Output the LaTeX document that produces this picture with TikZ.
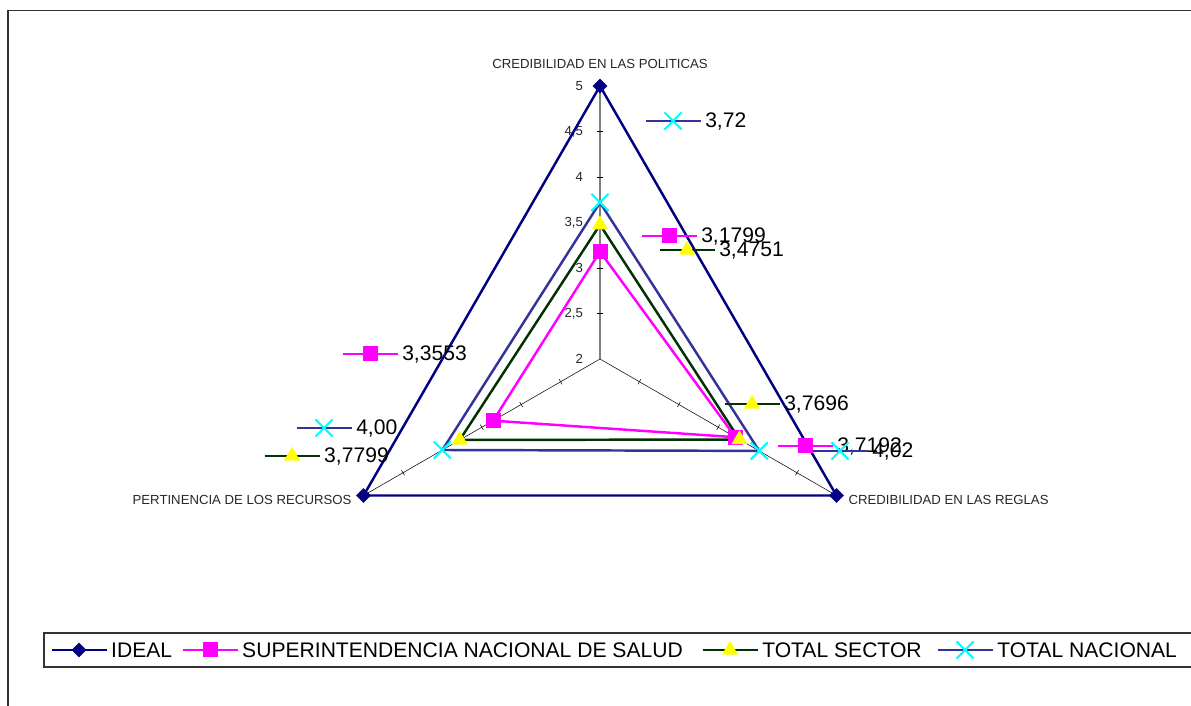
\documentclass[tikz,border=0pt]{standalone}
\usepackage{fontspec}
\setmainfont{Liberation Sans}
\usetikzlibrary{shapes.geometric,shapes.misc}
\definecolor{idealc}{HTML}{000080}
\definecolor{supc}{HTML}{FF00FF}
\definecolor{secc}{HTML}{003300}
\definecolor{nacc}{HTML}{333399}
\definecolor{crossc}{HTML}{00FFFF}
\definecolor{tric}{HTML}{FFFF00}
\tikzset{
  ideal/.style={draw=idealc, line width=1.4pt},
  sup/.style={draw=supc, line width=1.4pt},
  sec/.style={draw=secc, line width=1.4pt},
  nac/.style={draw=nacc, line width=1.4pt},
  mdia/.style={diamond, fill=idealc, inner sep=0pt, minimum size=0.3cm},
  msq/.style={rectangle, fill=supc, inner sep=0pt, minimum size=0.3cm},
  mtri/.style={regular polygon, regular polygon sides=3, fill=tric, inner sep=0pt, minimum size=0.37cm},
  mx/.style={cross out, draw=crossc, line width=1.2pt, inner sep=0pt, minimum size=0.3cm},
  axlbl/.style={font=\fontsize{7.5}{9}\selectfont, text=black!85, inner sep=1pt},
  vlbl/.style={font=\fontsize{12}{14}\selectfont, inner sep=2pt}
}
\begin{document}
\begin{tikzpicture}
  \clip (0,0) rectangle (23.82,14.12);
  \draw[black!80, line width=0.8pt] (0.16,-1) -- (0.16,13.91) -- (25,13.91);
  % radar: centre, 1.82cm per unit, 2 at the centre
  \begin{scope}[shift={(12,6.94)}]
    \draw[gray, line width=0.6pt] (0,0) -- (90:5.46);
    \draw[black, line width=0.3pt] (0,0) -- (-30:5.46); \draw[black, line width=0.3pt] (0,0) -- (210:5.46);
    \foreach \a in {90,-30,210} \foreach \k in {1,...,5} \draw[black, line width=0.3pt, rotate=\a] (\k*0.91,-0.06) -- (\k*0.91,0.06);
    \foreach \k/\v [count=\i] in {0/2,1/{2,5},2/3,3/{3,5},4/4,5/{4,5},6/5} \node[axlbl, anchor=east] (v\i) at (-0.3,\k*0.91) {\v};
    \coordinate (iP) at (90:5.46); \coordinate (iR) at (-30:5.46); \coordinate (iT) at (210:5.46);
    \coordinate (sP) at (90:{1.1799*1.82}); \coordinate (sR) at (-30:{1.7192*1.82}); \coordinate (sT) at (210:{1.3553*1.82});
    \coordinate (tP) at (90:{1.4751*1.82}); \coordinate (tR) at (-30:{1.7696*1.82}); \coordinate (tT) at (210:{1.7799*1.82});
    \coordinate (nP) at (90:{1.72*1.82}); \coordinate (nR) at (-30:{2.02*1.82}); \coordinate (nT) at (210:{2.00*1.82});
    \draw[ideal] (iP) -- (iR) -- (iT) -- cycle;
    \draw[sup] (sP) -- (sR) -- (sT) -- cycle;
    \draw[sec] (tP) -- (tR) -- (tT) -- cycle;
    \draw[nac] (nP) -- (nR) -- (nT) -- cycle;
    \node[mdia] (IP) at (iP) {}; \node[mdia] (IR) at (iR) {}; \node[mdia] (IT) at (iT) {};
    \node[msq] (SP) at (sP) {}; \node[msq] (SR) at (sR) {}; \node[msq] (ST) at (sT) {};
    \node[mtri] (TP) at (tP) {}; \node[mtri] (TR) at (tR) {}; \node[mtri] (TT) at (tT) {};
    \node[mx] (NP) at (nP) {}; \node[mx] (NR) at (nR) {}; \node[mx] (NT) at (nT) {};
  \end{scope}
  \node[axlbl] (lPol) at (12,12.84) {CREDIBILIDAD EN LAS POLITICAS};
  \node[axlbl, anchor=east] (lRec) at (7.07,4.12) {PERTINENCIA DE LOS RECURSOS};
  \node[axlbl, anchor=west] (lReg) at (16.93,4.12) {CREDIBILIDAD EN LAS REGLAS};
  % data labels with keys
  \foreach \x/\y/\s/\m/\t [count=\i] in {13.46/11.70/nac/mx/{3,72}, 13.38/9.40/sup/msq/{3,1799}, 13.74/9.12/sec/mtri/{3,4751},
      7.40/7.04/sup/msq/{3,3553}, 6.48/5.56/nac/mx/{4,00}, 5.84/5.00/sec/mtri/{3,7799},
      15.04/6.04/sec/mtri/{3,7696}, 16.10/5.20/sup/msq/{3,7192}, 16.80/5.10/nac/mx/{4,02}}{
    \draw[\s] (\x-0.55,\y) -- (\x+0.55,\y) node[vlbl, anchor=west] (d\i) {\t};
    \node[\m] (k\i) at (\x,\y) {};
  }
  % legend
  \draw[black!80, line width=0.6pt] (0.88,0.78) rectangle (24.5,1.46);
  \foreach \x/\s/\m/\t [count=\i] in {1.58/ideal/mdia/IDEAL, 4.20/sup/msq/SUPERINTENDENCIA NACIONAL DE SALUD,
      14.60/sec/mtri/TOTAL SECTOR, 19.30/nac/mx/TOTAL NACIONAL}{
    \draw[\s] (\x-0.55,1.12) -- (\x+0.55,1.12) node[vlbl, anchor=west] (g\i) {\t};
    \node[\m] (m\i) at (\x,1.12) {};
  }
\end{tikzpicture}
\end{document}
